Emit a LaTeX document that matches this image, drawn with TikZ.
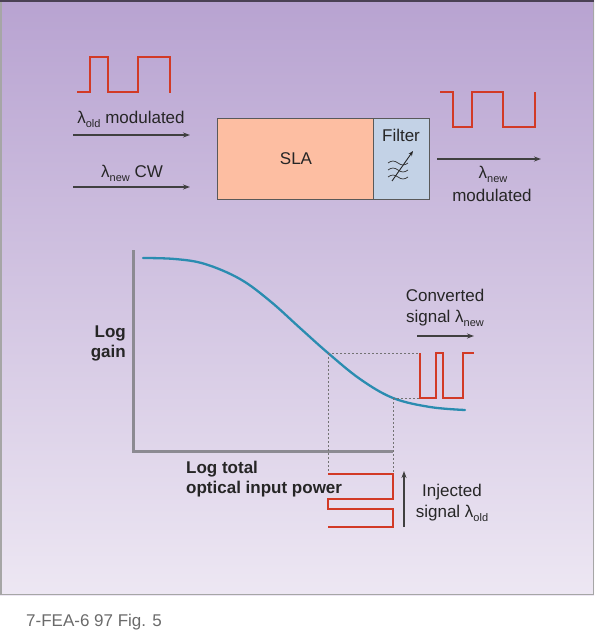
\documentclass[tikz,border=0pt]{standalone}
\usepackage{fontspec}
\setmainfont{Liberation Sans}
\usetikzlibrary{arrows.meta}
\definecolor{bgtop}{HTML}{B8A3D1}
\definecolor{bgbot}{HTML}{EDE7F3}
\definecolor{sigred}{HTML}{D23A26}
\definecolor{curveblue}{HTML}{2A8CB0}
\definecolor{slafill}{HTML}{FDBEA2}
\definecolor{filtfill}{HTML}{C3D2E6}
\definecolor{axisgray}{HTML}{8C8A92}
\definecolor{captiongray}{HTML}{6A6A6A}
\newcommand\lamsub[1]{λ\raisebox{-4pt}{\fontsize{11}{12}\selectfont #1}}
\begin{document}
\begin{tikzpicture}[x=1pt,y=-1pt,
  font=\fontsize{17}{21}\selectfont,
  label/.style={inner sep=0pt, text=black!85},
  boldlabel/.style={inner sep=0pt, font=\fontsize{17}{20}\selectfont\bfseries, text=black!85},
  box/.style={draw=black!65, line width=0.9pt, minimum height=81pt, inner sep=0pt},
  conn/.style={draw=black!75, line width=1.2pt, -{Stealth[length=7pt,width=5pt]}},
  wave/.style={draw=sigred, line width=1.8pt, line join=miter},
  guide/.style={draw=black!55, line width=1pt, dash pattern=on 2pt off 2pt},
  axis/.style={draw=axisgray, line width=3pt}]
\useasboundingbox (0,0) rectangle (597,640);
% background panel
\shade[top color=bgtop, bottom color=bgbot] (0,0) rectangle (594,595);
\draw[draw=black!35, line width=1.5pt] (0.75,0.75) rectangle (593.5,594.5);
\draw[draw=black!60!bgtop, line width=1.5pt] (0,0.75) -- (594,0.75);
% caption
\node[label, anchor=west, text=captiongray] (caption) at (26,622) {7-FEA-6 97 Fig. 5};

% ---------- top: wavelength converter ----------
\draw[wave] (77,92) -- (90,92) -- (90,57) -- (108,57) -- (108,92) -- (138,92) -- (138,57) -- (170,57) -- (170,93);
\node[label] (oldtxt) at (131,119) {\lamsub{old} modulated};
\coordinate (oldA) at (73,135);
\coordinate (oldB) at (190,135);
\draw[conn] (oldA) -- (oldB);
\node[label] (newtxt) at (132,173) {\lamsub{new} CW};
\coordinate (newA) at (73,187);
\coordinate (newB) at (190,187);
\draw[conn] (newA) -- (newB);

\node[box, fill=slafill, minimum width=156pt] (sla) at (295,158.5) {};
\node[label] (slatxt) at (296,159) {SLA};
\node[box, fill=filtfill, minimum width=56pt] (filter) at (401,158.5) {};
\node[label] (filttxt) at (401,135) {Filter};
% tunable filter symbol
\foreach \yy in {163,170,177}{
  \draw[black!80, line width=0.7pt] (388,\yy) sin (393,\yy-2) cos (398,\yy) sin (403,\yy+2) cos (408,\yy);
}
\draw[black!85, line width=0.9pt, -{Stealth[length=5pt,width=4pt]}] (392,181) -- (413,151);

\draw[wave] (440,92) -- (453,92) -- (453,127) -- (472,127) -- (472,92) -- (503,92) -- (503,127) -- (535,127) -- (535,92);
\coordinate (outA) at (437,159);
\coordinate (outB) at (541,159);
\draw[conn] (outA) -- (outB);
\node[label] (outtxt1) at (493,174) {\lamsub{new}};
\node[label] (outtxt2) at (492,195) {modulated};

% ---------- bottom: gain curve ----------
\draw[axis] (133,250) -- (133,451) -- (393,451);
\node[boldlabel, align=right, anchor=east] (ylab) at (126,343) {Log\\gain};
\node[boldlabel, align=left, anchor=west] (xlab) at (186,479) {Log total\\optical input power};

\draw[curveblue, line width=2.3pt, line cap=round]
  plot[smooth, tension=0.6] coordinates {(143,258) (175,259) (205,264) (240,279) (270,301) (300,328) (328,353) (360,379) (393,398) (430,407) (465,410)};

\draw[guide] (328,353) -- (328,473);
\draw[guide] (393,398) -- (393,473);
\draw[guide] (328,353) -- (420,353);
\draw[guide] (393,398) -- (420,398);

% converted signal
\draw[wave] (420,353) -- (420,398) -- (436,398) -- (436,353) -- (443,353) -- (443,398) -- (463,398) -- (463,353) -- (474,353);
\coordinate (convA) at (417,336);
\coordinate (convB) at (474,336);
\draw[conn] (convA) -- (convB);
\node[label, align=center] (convtxt) at (445,308) {Converted\\signal \lamsub{new}};

% injected signal
\draw[wave] (328,474) -- (393,474) -- (393,499) -- (328,499) -- (328,509) -- (393,509) -- (393,527) -- (328,527);
\coordinate (injA) at (404,527);
\coordinate (injB) at (404,471);
\draw[conn] (injA) -- (injB);
\node[label, align=center] (injtxt) at (452,503) {Injected\\signal \lamsub{old}};
\end{tikzpicture}
\end{document}
